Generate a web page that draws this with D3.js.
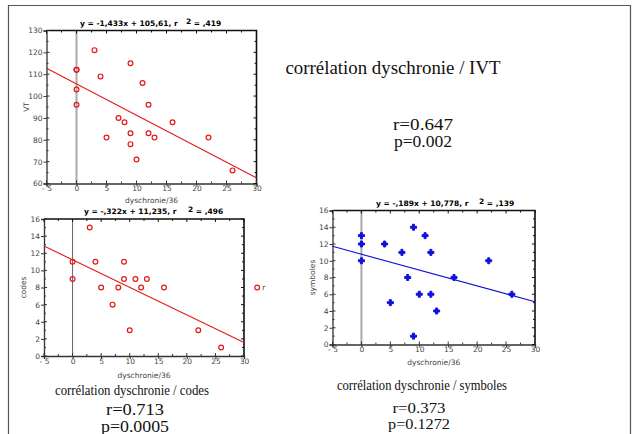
<!DOCTYPE html>
<html>
<head>
<meta charset="utf-8">
<script src="https://cdn.jsdelivr.net/npm/d3@7"></script>
<style>
body { margin:0; background:#fff; }
svg { display:block; }
.tick-label { font-family:"DejaVu Sans", sans-serif; font-size:7.5px; fill:#444; }
.fit-title { font-family:"DejaVu Sans", sans-serif; font-size:7.5px; font-weight:bold; fill:#000; }
.caption { font-family:"Liberation Serif", "Times New Roman", serif; fill:#111; }
</style>
</head>
<body>
<div id="chart"></div>
<script>
// chart 1 : dyschronie vs VT
const dysVT = [0, 0, 0, 0, 3, 4, 9, 11, 12, 7, 8, 16, 5, 9, 9, 12, 13, 22, 10, 26];
const vt    = [112, 112, 103, 96, 121, 109, 115, 106, 96, 90, 88, 88, 81, 83, 78, 83, 81, 81, 71, 66];

// chart 2 : dyschronie vs codes
const dysCodes = [0, 0, 3, 4, 5, 7, 8, 9, 9, 10, 11, 12, 13, 16, 22, 26];
const codes    = [11, 9, 15, 11, 8, 6, 8, 11, 9, 3, 9, 8, 9, 8, 3, 1];
// stray marker cut off at the right of the codes plot
const codesStray = [32.3, 8];

// chart 3 : dyschronie vs symboles
const dysSym = [0, 0, 0, 4, 7, 8, 9, 11, 12, 10, 12, 5, 13, 16, 22, 26, 9];
const sym    = [13, 12, 10, 12, 11, 8, 14, 13, 11, 6, 6, 5, 4, 8, 10, 6, 1];

// regression fits (slope, intercept) and their titles
const fits = [[-1.433, 105.61], [-0.322, 11.235], [-0.189, 10.778]];
const fitTitles = [
	['y = -1,433x + 105,61, r', '2', ' = ,419'],
	['y = -,322x + 11,235, r', '2', ' = ,496'],
	['y = -,189x + 10,778, r', '2', ' = ,139']
];
const xTicks = [-5, 0, 5, 10, 15, 20, 25, 30];
const yTicksVT = [60, 70, 80, 90, 100, 110, 120, 130];
const yTicksCount = [0, 2, 4, 6, 8, 10, 12, 14, 16];
const xTitle = 'dyschronie/36';
const yTitles = ['VT', 'codes', 'symboles'];

const captions = [
	['corrélation dyschronie / IVT', 'r=0.647', 'p=0.002'],
	['corrélation dyschronie / codes', 'r=0.713', 'p=0.0005'],
	['corrélation dyschronie / symboles', 'r=0.373', 'p=0.1272']
];

const W = 633, H = 434;
const svg = d3.select('#chart').append('svg').attr('width', W).attr('height', H);

// page frame
svg.append('path')
	.attr('d', 'M8.5,440 V5.5 H630.5 V440')
	.style('fill', 'none').style('stroke', '#555').style('stroke-width', 1.2);

function drawScatter(opt){
	const g = svg.append('g');
	const x = d3.scaleLinear().domain([-5, 30]).range([opt.l, opt.r]);
	const yt = opt.yTicks;
	const y = d3.scaleLinear().domain([yt[0], yt[yt.length - 1]]).range([opt.b, opt.t]);
	const ystep = yt[1] - yt[0];

	// zero line
	g.append('line')
		.attr('x1', x(0)).attr('x2', x(0)).attr('y1', y.range()[0]).attr('y2', y.range()[1])
		.style('stroke', opt.zeroColor).style('stroke-width', opt.zeroWidth);

	// frame top + right
	g.append('path')
		.attr('d', `M${opt.l},${opt.t} H${opt.r} V${opt.b}`)
		.style('fill', 'none').style('stroke', '#111').style('stroke-width', 1.6);

	// bottom axis
	const axisX = d3.axisBottom(x).tickValues(xTicks).tickSize(3)
		.tickFormat(d => d < 0 ? '- ' + Math.abs(d) : d);
	const gx = g.append('g').attr('transform', `translate(0,${opt.b})`).call(axisX);
	gx.select('.domain').style('stroke', '#333').style('stroke-width', 1.3);
	gx.selectAll('.tick line').style('stroke', '#333');
	gx.selectAll('.tick text').attr('class', 'tick-label').attr('dy', '0.2em').attr('fill', null);

	// left axis
	const axisY = d3.axisLeft(y).tickValues(yt).tickSize(3);
	const gy = g.append('g').attr('transform', `translate(${opt.l},0)`).call(axisY);
	gy.select('.domain').style('stroke', '#333').style('stroke-width', 1.3);
	gy.selectAll('.tick line').style('stroke', '#333');
	gy.selectAll('.tick text').attr('class', 'tick-label').attr('x', -4).attr('fill', null);
	gx.attr('font-size', null).attr('font-family', null);
	gy.attr('font-size', null).attr('font-family', null);

	// inner ticks on all sides
	const xMinor = d3.range(-5, 30.01, 2.5);
	const yMinor = d3.range(yt[0], yt[yt.length - 1] + 0.01, ystep / 2);
	g.selectAll(null).data(xMinor).join('line')
		.attr('x1', d => x(d)).attr('x2', d => x(d))
		.attr('y1', opt.b).attr('y2', d => opt.b - (d % 5 === 0 ? 3 : 2))
		.style('stroke', '#333');
	g.selectAll(null).data(xMinor).join('line')
		.attr('x1', d => x(d)).attr('x2', d => x(d))
		.attr('y1', opt.t).attr('y2', d => opt.t + (d % 5 === 0 ? 3 : 2))
		.style('stroke', '#111');
	g.selectAll(null).data(yMinor).join('line')
		.attr('y1', d => y(d)).attr('y2', d => y(d))
		.attr('x1', opt.l).attr('x2', d => opt.l + ((d - yt[0]) % ystep === 0 ? 3 : 2))
		.style('stroke', '#333');
	g.selectAll(null).data(yMinor).join('line')
		.attr('y1', d => y(d)).attr('y2', d => y(d))
		.attr('x1', opt.r).attr('x2', d => opt.r - ((d - yt[0]) % ystep === 0 ? 3 : 2))
		.style('stroke', '#111');

	// regression line
	const fit = opt.fit;
	const line = d3.line().x(d => x(d)).y(d => y(fit[0] * d + fit[1]));
	g.append('path').datum([-5, 30]).attr('d', line)
		.style('fill', 'none').style('stroke', opt.color).style('stroke-width', 1.1);

	// points
	const pts = opt.xs.map((d, i) => [d, opt.ys[i]]);
	if (opt.filled) {
		g.selectAll(null).data(pts).join('path')
			.attr('d', d3.symbol().type(d3.symbolCross).size(20))
			.attr('transform', d => `translate(${x(d[0])},${y(d[1])})`)
			.style('fill', opt.color).style('stroke', opt.color).style('stroke-width', 1)
			.style('stroke-linejoin', 'round');
	} else {
		g.selectAll(null).data(pts).join('circle')
			.attr('cx', d => x(d[0])).attr('cy', d => y(d[1])).attr('r', 2.4)
			.style('fill', 'none').style('stroke', opt.color).style('stroke-width', 1.2);
	}
	if (opt.stray) {
		g.append('circle')
			.attr('cx', x(opt.stray[0])).attr('cy', y(opt.stray[1])).attr('r', 2.4)
			.style('fill', 'none').style('stroke', opt.color).style('stroke-width', 1.2);
		g.append('text').attr('class', 'tick-label')
			.attr('x', x(opt.stray[0]) + 5).attr('y', y(opt.stray[1]) + 2.5).text('r');
	}

	// fit title
	const ft = opt.title;
	const tt = g.append('text').attr('class', 'fit-title').attr('y', opt.t - 5);
	tt.append('tspan').attr('x', opt.titleX[0]).text(ft[0]);
	tt.append('tspan').attr('x', opt.titleX[1]).attr('dy', -2).text(ft[1]);
	tt.append('tspan').attr('dy', 2).text(ft[2]);

	// axis titles
	g.append('text').attr('class', 'tick-label')
		.attr('x', (opt.l + opt.r) / 2).attr('y', opt.b + opt.xTitleDy)
		.attr('text-anchor', 'middle').text(xTitle);
	g.append('text').attr('class', 'tick-label')
		.attr('transform', `translate(${opt.l - 18},${(opt.t + opt.b) / 2}) rotate(-90)`)
		.attr('text-anchor', 'middle').text(opt.yTitle);
}

drawScatter({l:46.5, r:256.5, t:30.5, b:183.5, yTicks:yTicksVT, xs:dysVT, ys:vt,
	fit:fits[0], title:fitTitles[0], titleX:[80, 186], color:'#e31a1a', filled:false,
	zeroColor:'#aaa', zeroWidth:2, yTitle:yTitles[0], xTitleDy:19});
drawScatter({l:44, r:244, t:219, b:356, yTicks:yTicksCount, xs:dysCodes, ys:codes,
	fit:fits[1], title:fitTitles[1], titleX:[84, 188], color:'#e31a1a', filled:false,
	zeroColor:'#666', zeroWidth:1, yTitle:yTitles[1], xTitleDy:22, stray:codesStray});
drawScatter({l:332.5, r:535, t:210.5, b:344.5, yTicks:yTicksCount, xs:dysSym, ys:sym,
	fit:fits[2], title:fitTitles[2], titleX:[376, 479], color:'#1010dd', filled:true,
	zeroColor:'#aaa', zeroWidth:2, yTitle:yTitles[2], xTitleDy:20});

// captions: x centre, baselines, font sizes, widths
const capPos = [
	{x:[393, 423], y:[74, 130, 147], size:[19, 16], w:[215, 60, 58]},
	{x:[132, 135], y:[395, 415, 432], size:[15, 16], w:[154, 58, 68]},
	{x:[422, 419], y:[390, 413, 429], size:[14, 15], w:[170, 53, 62]}
];
captions.forEach(function(c, i){
	const p = capPos[i];
	c.forEach(function(s, j){
		svg.append('text').attr('class', 'caption')
			.attr('x', j === 0 ? p.x[0] : p.x[1])
			.attr('y', p.y[j])
			.attr('text-anchor', 'middle')
			.attr('textLength', p.w[j])
			.attr('lengthAdjust', 'spacingAndGlyphs')
			.style('font-size', (j === 0 ? p.size[0] : p.size[1]) + 'px')
			.text(s);
	});
});
</script>
</body>
</html>
